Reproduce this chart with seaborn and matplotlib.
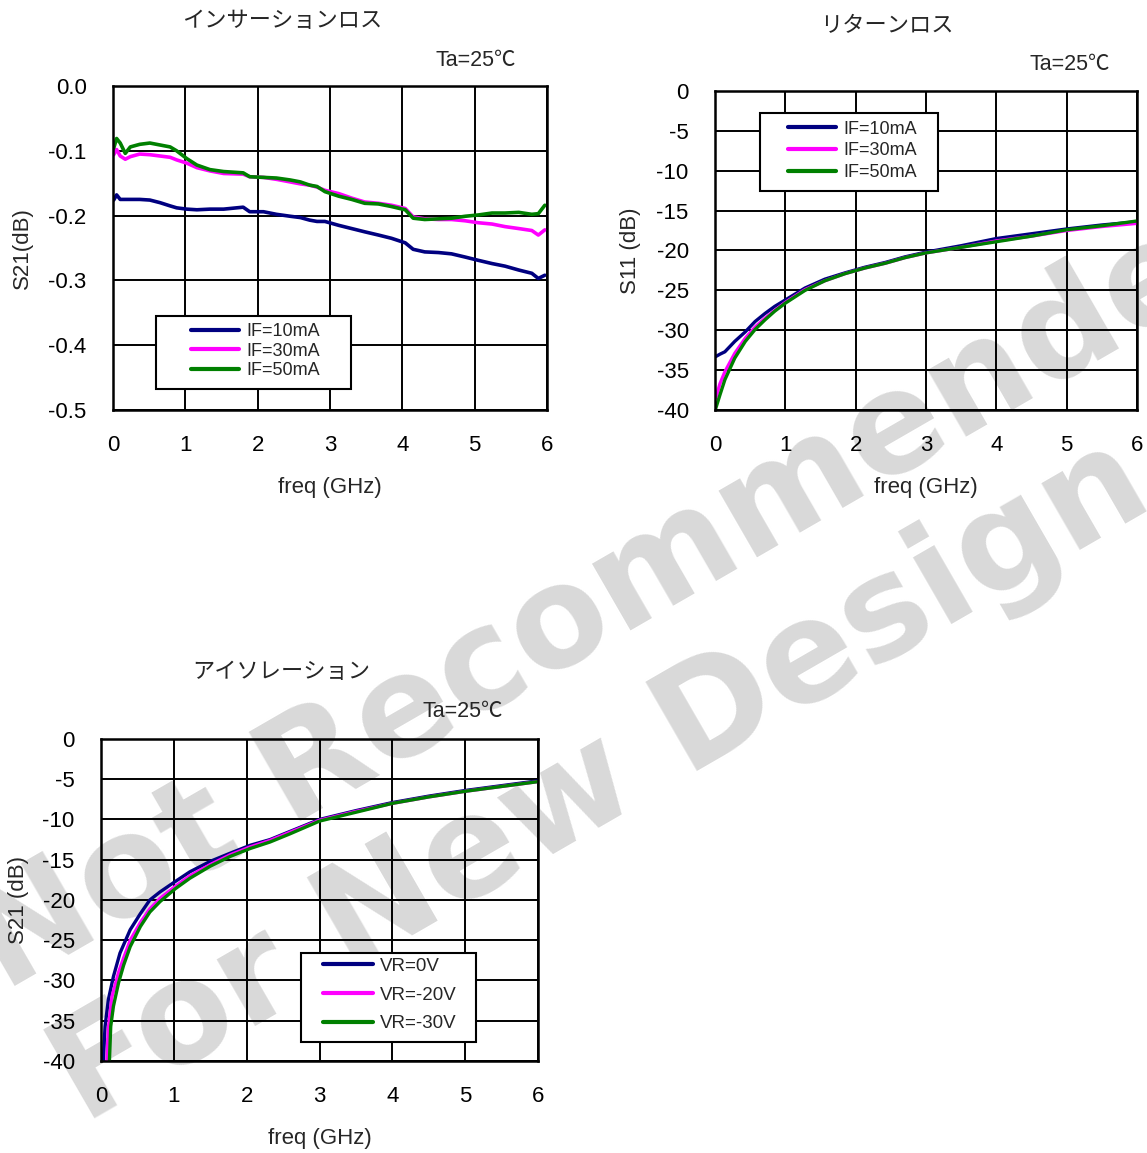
import numpy as np
import pandas as pd
import seaborn as sns
import matplotlib.pyplot as plt
from matplotlib.lines import Line2D
from matplotlib.patches import Rectangle

# ---- data ----

# insertion loss (S21), IF = 10 / 30 / 50 mA
il_freq = [0.01, 0.05, 0.10, 0.17, 0.24, 0.37, 0.51, 0.65, 0.79, 0.88, 1.02, 1.16, 1.34, 1.53,
           1.80, 1.89, 2.08, 2.26, 2.45, 2.59, 2.72, 2.82, 2.93, 3.12, 3.30, 3.48, 3.67, 3.85,
           4.04, 4.15, 4.31, 4.50, 4.68, 4.87, 5.05, 5.24, 5.42, 5.61, 5.79, 5.88, 5.97]
il_10ma = [-0.176, -0.168, -0.175, -0.175, -0.175, -0.175, -0.176, -0.180, -0.185, -0.188, -0.190,
           -0.191, -0.190, -0.190, -0.187, -0.194, -0.194, -0.198, -0.201, -0.203, -0.207, -0.209,
           -0.209, -0.215, -0.220, -0.225, -0.230, -0.235, -0.242, -0.252, -0.256, -0.257, -0.259,
           -0.264, -0.269, -0.274, -0.278, -0.284, -0.289, -0.297, -0.292]
il_30ma = [-0.106, -0.098, -0.108, -0.113, -0.109, -0.105, -0.106, -0.108, -0.110, -0.114, -0.119,
           -0.126, -0.131, -0.135, -0.136, -0.140, -0.141, -0.144, -0.148, -0.151, -0.153, -0.156,
           -0.161, -0.166, -0.173, -0.179, -0.181, -0.184, -0.189, -0.202, -0.205, -0.206, -0.206,
           -0.208, -0.211, -0.213, -0.217, -0.220, -0.223, -0.230, -0.222]
il_50ma = [-0.096, -0.081, -0.088, -0.104, -0.094, -0.090, -0.088, -0.091, -0.094, -0.100, -0.112,
           -0.122, -0.129, -0.132, -0.134, -0.140, -0.141, -0.142, -0.145, -0.148, -0.153, -0.155,
           -0.163, -0.170, -0.175, -0.181, -0.182, -0.186, -0.191, -0.204, -0.206, -0.205, -0.204,
           -0.201, -0.199, -0.196, -0.196, -0.195, -0.198, -0.197, -0.184]

# return loss (S11)
rl_freq = [0.01, 0.07, 0.14, 0.28, 0.43, 0.57, 0.71, 0.85, 1.0, 1.28, 1.56, 1.85, 2.13, 2.42,
           2.70, 3.0, 3.5, 4.0, 4.5, 5.0, 5.5, 6.0]
rl_10ma = [-33.3, -33.0, -32.7, -31.4, -30.2, -28.9, -27.9, -27.0, -26.2, -24.7, -23.6, -22.8,
           -22.1, -21.5, -20.8, -20.2, -19.4, -18.5, -17.9, -17.3, -16.8, -16.4]
rl_30ma = [-38.5, -36.7, -35.2, -32.9, -31.0, -29.6, -28.5, -27.5, -26.5, -24.9, -23.8, -22.9,
           -22.2, -21.6, -20.9, -20.3, -19.6, -18.8, -18.2, -17.5, -17.0, -16.6]
rl_50ma = [-39.8, -38.1, -36.2, -33.5, -31.4, -29.9, -28.7, -27.6, -26.6, -25.0, -23.8, -22.9,
           -22.2, -21.6, -20.9, -20.3, -19.6, -18.9, -18.2, -17.4, -16.9, -16.3]

# isolation (S21), VR = 0 / -20 / -30 V
iso_freq_0v = [0.03, 0.055, 0.10, 0.17, 0.26, 0.40, 0.54, 0.67, 0.81, 1.02, 1.22, 1.50, 1.77,
               2.05, 2.32, 2.59, 3.0, 3.5, 4.0, 4.5, 5.0, 5.5, 6.0]
iso_0v = [-40.0, -35.7, -32.4, -29.5, -26.6, -23.7, -21.7, -20.0, -19.0, -17.7, -16.5, -15.2,
          -14.2, -13.2, -12.5, -11.5, -10.0, -8.9, -7.9, -7.1, -6.4, -5.8, -5.2]
iso_freq_20v = [0.08, 0.10, 0.15, 0.24, 0.31, 0.40, 0.54, 0.67, 0.81, 1.02, 1.22, 1.50, 1.77,
                2.05, 2.32, 2.59, 3.0, 3.5, 4.0, 4.5, 5.0, 5.5, 6.0]
iso_20v = [-40.0, -36.0, -32.0, -29.0, -27.2, -25.0, -22.8, -21.1, -19.8, -18.3, -17.0, -15.6,
           -14.4, -13.4, -12.6, -11.6, -10.1, -9.0, -8.0, -7.2, -6.5, -5.9, -5.3]
iso_freq_30v = [0.115, 0.133, 0.17, 0.24, 0.31, 0.40, 0.54, 0.67, 0.81, 1.02, 1.22, 1.50, 1.77,
                2.05, 2.32, 2.59, 3.0, 3.5, 4.0, 4.5, 5.0, 5.5, 6.0]
iso_30v = [-40.0, -35.7, -33.2, -30.3, -28.1, -25.8, -23.3, -21.5, -20.2, -18.6, -17.3, -15.8,
           -14.6, -13.6, -12.8, -11.8, -10.2, -9.1, -8.0, -7.2, -6.5, -5.9, -5.3]

if_labels = ['IF=10mA', 'IF=30mA', 'IF=50mA']
vr_labels = ['VR=0V', 'VR=-20V', 'VR=-30V']
line_colors = ['#000080', '#ff00ff', '#008000']

x_ticks = [0, 1, 2, 3, 4, 5, 6]
il_yticks = [0.0, -0.1, -0.2, -0.3, -0.4, -0.5]
il_ytick_labels = ['0.0', '-0.1', '-0.2', '-0.3', '-0.4', '-0.5']
db_yticks = [0, -5, -10, -15, -20, -25, -30, -35, -40]
db_ytick_labels = ['0', '-5', '-10', '-15', '-20', '-25', '-30', '-35', '-40']

titles = ['インサーションロス', 'リターンロス', 'アイソレーション']
temp_note = 'Ta=25℃'
watermark = ['Not Recommended', 'For New Design']


def long_df(freqs, values, labels, col):
    parts = []
    for f, v, lab in zip(freqs, values, labels):
        parts.append(pd.DataFrame({'freq': f, 'val': v, col: lab}))
    return pd.concat(parts, ignore_index=True)


il_df = long_df([il_freq] * 3, [il_10ma, il_30ma, il_50ma], if_labels, 'IF')
rl_df = long_df([rl_freq] * 3, [rl_10ma, rl_30ma, rl_50ma], if_labels, 'IF')
iso_df = long_df([iso_freq_0v, iso_freq_20v, iso_freq_30v], [iso_0v, iso_20v, iso_30v],
                 vr_labels, 'VR')

# ---- style ----
sns.set_style('white')
plt.rcParams['font.family'] = ['Liberation Sans', 'Noto Sans CJK JP', 'DejaVu Sans']
plt.rcParams['axes.unicode_minus'] = False

fig = plt.figure(figsize=(11.47, 11.53), dpi=100)
fig.patch.set_facecolor('white')

ax_il = fig.add_axes([0.0985, 0.6444, 0.3784, 0.2810])
ax_rl = fig.add_axes([0.6234, 0.6444, 0.3679, 0.2767])
ax_iso = fig.add_axes([0.0881, 0.0798, 0.3810, 0.2793])

panels = [
    dict(ax=ax_il, df=il_df, hue='IF', title=titles[0], ylabel='S21(dB)',
         yticks=il_yticks, ylabels=il_ytick_labels, ylim=(-0.5, 0.0), lw=2.6,
         tpos=(0.389, 1.200), npos=(0.929, 1.080),
         box=(0.099, 0.065, 0.449, 0.225), lcen=(0.328, 0.182),
         lkw=dict(fontsize=13, labelspacing=0.14), ylpad=11),
    dict(ax=ax_rl, df=rl_df, hue='IF', title=titles[1], ylabel='S11 (dB)',
         yticks=db_yticks, ylabels=db_ytick_labels, ylim=(-40, 0), lw=2.4,
         tpos=(0.408, 1.203), npos=(0.936, 1.082),
         box=(0.107, 0.687, 0.421, 0.244), lcen=(0.325, 0.812),
         lkw=dict(fontsize=13, labelspacing=0.27), ylpad=11),
    dict(ax=ax_iso, df=iso_df, hue='VR', title=titles[2], ylabel='S21 (dB)',
         yticks=db_yticks, ylabels=db_ytick_labels, ylim=(-40, 0), lw=2.4,
         tpos=(0.412, 1.207), npos=(0.920, 1.084),
         box=(0.458, 0.059, 0.400, 0.276), lcen=(0.661, 0.205),
         lkw=dict(fontsize=13.5, labelspacing=0.62), ylpad=10),
]

for p in panels:
    ax = p['ax']
    ax.set_facecolor('none')
    sns.lineplot(data=p['df'], x='freq', y='val', hue=p['hue'], palette=line_colors,
                 estimator=None, sort=False, lw=p['lw'], legend=False, ax=ax)
    ax.set_xlim(0, 6)
    ax.set_ylim(*p['ylim'])
    ax.set_xticks(x_ticks)
    ax.set_xticklabels([str(t) for t in x_ticks])
    ax.set_yticks(p['yticks'])
    ax.set_yticklabels(p['ylabels'])
    ax.tick_params(axis='both', length=0, labelsize=16, colors='black')
    ax.tick_params(axis='x', pad=18)
    ax.tick_params(axis='y', pad=19)
    ax.grid(True, color='black', lw=1.4)
    for sp in ax.spines.values():
        sp.set_visible(True)
        sp.set_color('black')
        sp.set_linewidth(1.8)
    ax.set_xlabel('freq (GHz)', fontsize=16, labelpad=15)
    ax.set_ylabel(p['ylabel'], fontsize=16, labelpad=p['ylpad'])

    ax.text(*p['tpos'], p['title'], transform=ax.transAxes, ha='center', va='center',
            fontsize=16)
    ax.text(*p['npos'], temp_note, transform=ax.transAxes, ha='right', va='center',
            fontsize=15.5)

    labels = if_labels if p['hue'] == 'IF' else vr_labels
    b = p['box']
    ax.add_patch(Rectangle((b[0], b[1]), b[2], b[3], transform=ax.transAxes,
                           facecolor='white', edgecolor='black', lw=1.5, zorder=5))
    handles = [Line2D([], [], color=c, lw=3) for c in line_colors]
    leg = ax.legend(handles, labels, loc='center', bbox_to_anchor=p['lcen'], frameon=False,
                    handlelength=2.65, handletextpad=0.4, borderpad=0.2, **p['lkw'])
    leg.set_zorder(6)

# watermark, drawn underneath the axes
wm = dict(rotation=30, rotation_mode='anchor', ha='left', va='baseline', fontsize=101,
          fontweight='bold', family='DejaVu Sans', color='#d9d9d9', zorder=-1)
fig.text(4 / 1147, 1 - 992 / 1153, watermark[0], **wm)
fig.text(84 / 1147, 1 - 1125 / 1153, watermark[1], **wm)

fig.savefig('out.png', dpi=100)
